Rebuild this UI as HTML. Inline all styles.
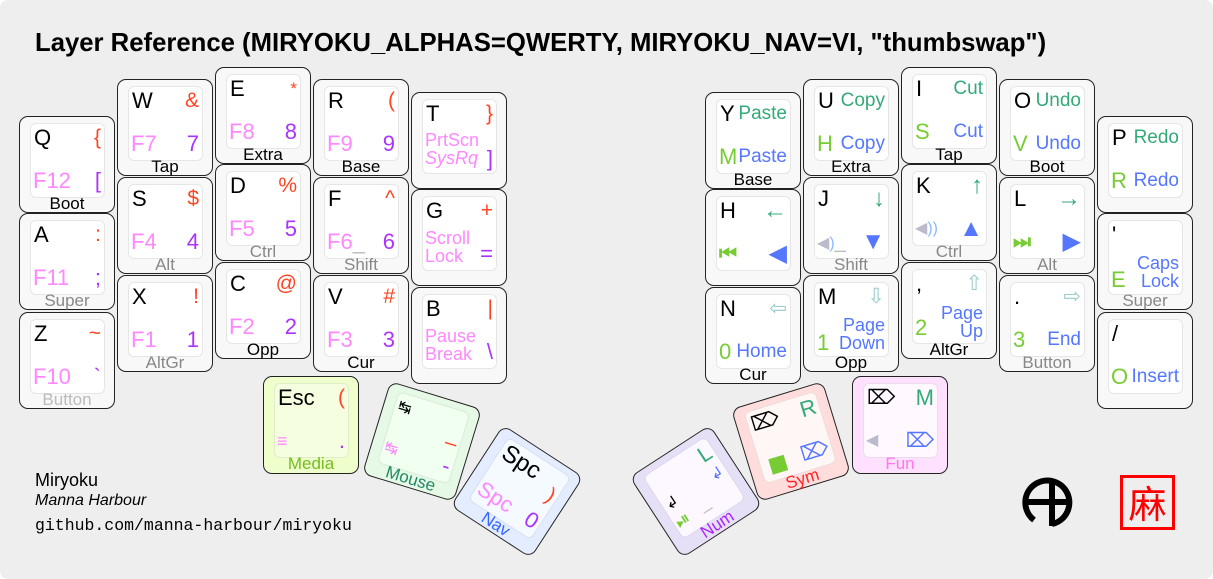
<!DOCTYPE html>
<html><head><meta charset="utf-8"><style>
*{box-sizing:border-box;margin:0;padding:0}
body{width:1213px;height:579px;background:#fff;font-family:"Liberation Sans",sans-serif;overflow:hidden;position:relative}
#bg{position:absolute;left:0;top:0;width:1213px;height:579px;background:#eeeeee;border-radius:8px}
.k{position:absolute;width:96px;height:97px;border:1px solid #222;border-radius:9px;background:#f8f8f8}
.i{position:absolute;left:10px;top:6px;width:75px;height:75px;background:#fff;border:1px solid #e6e6e6;border-radius:6px}
.k span{position:absolute;white-space:nowrap;line-height:22px}
.tl{left:14px;top:10px;font-size:22px;color:#000}
.tr{right:13px;top:10px;font-size:21px;color:#ff4422;text-align:right}
.bl{left:13px;top:53px;font-size:22px;color:#ff88ff}
.br{right:13px;top:53px;font-size:22px;color:#aa33ff;text-align:right}
.k span.lb{left:0;right:0;top:77px;font-size:17px;line-height:20px;text-align:center;color:#000}
.g{color:#888!important}.lg{color:#bbb!important}
.gr{color:#33aa77!important}.bu{color:#5577ff!important}.li{color:#77cc33!important}.te{color:#99cccc!important}
.two{font-size:18px!important;line-height:18px!important}
.ar{font-size:24px!important;font-weight:bold}
.t{position:absolute;white-space:nowrap}
</style></head><body>
<div id="bg"></div>
<div class="t" style="left:35px;top:29px;font-size:25.7px;font-weight:bold">Layer Reference (MIRYOKU_ALPHAS=QWERTY, MIRYOKU_NAV=VI, "thumbswap")</div>

<!-- left -->
<div class="k" style="left:19px;top:116px"><div class="i"></div><span class="tl">Q</span><span class="tr">{</span><span class="bl">F12</span><span class="br">[</span><span class="lb">Boot</span></div>
<div class="k" style="left:19px;top:213px"><div class="i"></div><span class="tl">A</span><span class="tr">:</span><span class="bl">F11</span><span class="br">;</span><span class="lb g">Super</span></div>
<div class="k" style="left:19px;top:312px"><div class="i"></div><span class="tl">Z</span><span class="tr">~</span><span class="bl">F10</span><span class="br">`</span><span class="lb lg">Button</span></div>
<div class="k" style="left:117px;top:79px"><div class="i"></div><span class="tl">W</span><span class="tr">&amp;</span><span class="bl">F7</span><span class="br">7</span><span class="lb">Tap</span></div>
<div class="k" style="left:117px;top:177px"><div class="i"></div><span class="tl">S</span><span class="tr">$</span><span class="bl">F4</span><span class="br">4</span><span class="lb g">Alt</span></div>
<div class="k" style="left:117px;top:275px"><div class="i"></div><span class="tl">X</span><span class="tr">!</span><span class="bl">F1</span><span class="br">1</span><span class="lb g">AltGr</span></div>
<div class="k" style="left:215px;top:67px"><div class="i"></div><span class="tl">E</span><span class="tr" style="font-size:17px">*</span><span class="bl">F8</span><span class="br">8</span><span class="lb">Extra</span></div>
<div class="k" style="left:215px;top:164px"><div class="i"></div><span class="tl">D</span><span class="tr">%</span><span class="bl">F5</span><span class="br">5</span><span class="lb g">Ctrl</span></div>
<div class="k" style="left:215px;top:262px"><div class="i"></div><span class="tl">C</span><span class="tr">@</span><span class="bl">F2</span><span class="br">2</span><span class="lb">Opp</span></div>
<div class="k" style="left:313px;top:79px"><div class="i"></div><span class="tl">R</span><span class="tr">(</span><span class="bl">F9</span><span class="br">9</span><span class="lb">Base</span></div>
<div class="k" style="left:313px;top:177px"><div class="i"></div><span class="tl">F</span><span class="tr">^</span><span class="bl">F6<span style="position:static;color:#bbb">_</span></span><span class="br">6</span><span class="lb g">Shift</span></div>
<div class="k" style="left:313px;top:275px"><div class="i"></div><span class="tl">V</span><span class="tr">#</span><span class="bl">F3</span><span class="br">3</span><span class="lb">Cur</span></div>
<div class="k" style="left:411px;top:92px"><div class="i"></div><span class="tl">T</span><span class="tr">}</span><span class="bl two" style="top:38px">PrtScn<br><i>SysRq</i></span><span class="br" style="top:55px">]</span></div>
<div class="k" style="left:411px;top:189px"><div class="i"></div><span class="tl">G</span><span class="tr">+</span><span class="bl two" style="top:39px">Scroll<br>Lock</span><span class="br">=</span></div>
<div class="k" style="left:411px;top:287px"><div class="i"></div><span class="tl">B</span><span class="tr">|</span><span class="bl two" style="top:39px">Pause<br>Break</span><span class="br" style="top:53px">\</span></div>

<!-- right -->
<div class="k" style="left:705px;top:92px"><div class="i"></div><span class="tl">Y</span><span class="tr gr" style="font-size:19px">Paste</span><span class="bl li">M</span><span class="br bu" style="font-size:19px">Paste</span><span class="lb">Base</span></div>
<div class="k" style="left:803px;top:79px"><div class="i"></div><span class="tl">U</span><span class="tr gr" style="font-size:19px">Copy</span><span class="bl li">H</span><span class="br bu" style="font-size:19px">Copy</span><span class="lb">Extra</span></div>
<div class="k" style="left:901px;top:67px"><div class="i"></div><span class="tl">I</span><span class="tr gr" style="font-size:19px">Cut</span><span class="bl li" style="top:53px">S</span><span class="br bu" style="font-size:19px">Cut</span><span class="lb">Tap</span></div>
<div class="k" style="left:999px;top:79px"><div class="i"></div><span class="tl">O</span><span class="tr gr" style="font-size:19px">Undo</span><span class="bl li">V</span><span class="br bu" style="font-size:19px">Undo</span><span class="lb">Boot</span></div>
<div class="k" style="left:1097px;top:116px"><div class="i"></div><span class="tl">P</span><span class="tr gr" style="font-size:19px">Redo</span><span class="bl li">R</span><span class="br bu" style="font-size:19px">Redo</span></div>
<div class="k" style="left:705px;top:189px"><div class="i"></div><span class="tl">H</span><span class="tr gr ar">&#x2190;</span><span class="bl li" style="font-size:20px;font-weight:bold">&#x23EE;</span><span class="br bu" style="font-size:24px">&#x25C0;</span></div>
<div class="k" style="left:803px;top:177px"><div class="i"></div><span class="tl">J</span><span class="tr gr ar">&#x2193;</span><span class="bl" style="color:#bbbbcc;font-size:16px">&#x25C0;<span style="position:static;color:#88bbff">)</span><span style="position:static;color:#bbb;font-size:20px">_</span></span><span class="br bu" style="font-size:24px">&#x25BC;</span><span class="lb g">Shift</span></div>
<div class="k" style="left:901px;top:164px"><div class="i"></div><span class="tl">K</span><span class="tr gr ar">&#x2191;</span><span class="bl" style="color:#bbbbcc;font-size:16px">&#x25C0;<span style="position:static;color:#88bbff">))</span></span><span class="br bu" style="font-size:24px">&#x25B2;</span><span class="lb g">Ctrl</span></div>
<div class="k" style="left:999px;top:177px"><div class="i"></div><span class="tl">L</span><span class="tr gr ar">&#x2192;</span><span class="bl li" style="font-size:20px;font-weight:bold">&#x23ED;</span><span class="br bu" style="font-size:24px">&#x25B6;</span><span class="lb g">Alt</span></div>
<div class="k" style="left:1097px;top:213px"><div class="i"></div><span class="tl">'</span><span class="bl li" style="top:55px">E</span><span class="br bu two" style="top:40px">Caps<br>Lock</span><span class="lb g">Super</span></div>
<div class="k" style="left:705px;top:287px"><div class="i"></div><span class="tl">N</span><span class="tr te">&#x21E6;</span><span class="bl li">0</span><span class="br bu" style="font-size:19px">Home</span><span class="lb">Cur</span></div>
<div class="k" style="left:803px;top:275px"><div class="i"></div><span class="tl">M</span><span class="tr te">&#x21E9;</span><span class="bl li" style="top:56px">1</span><span class="br bu two" style="top:40px">Page<br>Down</span><span class="lb">Opp</span></div>
<div class="k" style="left:901px;top:262px"><div class="i"></div><span class="tl">,</span><span class="tr te">&#x21E7;</span><span class="bl li" style="top:54px">2</span><span class="br bu two" style="top:41px">Page<br>Up</span><span class="lb">AltGr</span></div>
<div class="k" style="left:999px;top:275px"><div class="i"></div><span class="tl">.</span><span class="tr te">&#x21E8;</span><span class="bl li">3</span><span class="br bu" style="font-size:19px">End</span><span class="lb g">Button</span></div>
<div class="k" style="left:1097px;top:312px"><div class="i"></div><span class="tl">/</span><span class="bl li">O</span><span class="br bu" style="font-size:19px">Insert</span></div>

<!-- thumbs -->
<div class="k" style="left:263px;top:376px;height:98px;background:#eeffcc"><div class="i" style="background:#f5ffe0;border-color:#e0eccc"></div><span class="tl">Esc</span><span class="tr">(</span><span class="bl" style="font-size:18px">&#x2261;</span><span class="br">.</span><span class="lb" style="color:#77bb22">Media</span></div>
<div class="k" style="left:374px;top:393px;background:#e6f8e6;transform:rotate(17deg)"><div class="i" style="background:#f0fff0;border-color:#d8ecd8"></div><span class="tl" style="font-size:16px">&#x21B9;</span><span class="tr" style="top:30px">&#x2013;</span><span class="bl" style="font-size:16px">&#x21B9;</span><span class="br">-</span><span class="lb" style="color:#228866">Mouse</span></div>
<div class="k" style="left:469px;top:443px;background:#e4ecff;transform:rotate(33deg)"><div class="i" style="background:#f4faff;border-color:#d8e0f0"></div><span class="tl" style="font-size:24px">Spc</span><span class="tr" style="top:22px">)</span><span class="bl">Spc</span><span class="br">0</span><span class="lb" style="color:#3366ff">Nav</span></div>
<div class="k" style="left:648px;top:443px;background:#e6e0f6;transform:rotate(-33deg)"><div class="i" style="background:#fdf8ff;border-color:#ddd8ee"></div><span class="tl" style="font-size:16px;top:34px">&#x21B2;</span><span class="tr gr" style="font-size:22px">L</span><span class="bl li" style="font-size:18px">&#x23EF;</span><span class="br bu" style="font-size:16px;top:34px">&#x21B2;</span><span class="t" style="left:42px;top:50px;color:#bbb;font-size:18px">_</span><span class="lb" style="color:#aa22ff">Num</span></div>
<div class="k" style="left:743px;top:393px;background:#ffdddd;transform:rotate(-17deg)"><div class="i" style="background:#fff6f6;border-color:#eedada"></div><span class="tl" style="font-size:20px">&#x2326;</span><span class="tr gr" style="font-size:22px">R</span><span class="t" style="left:20px;top:58px;width:16px;height:16px;background:#77cc33"></span><span class="br bu" style="font-size:20px">&#x2326;</span><span class="lb" style="color:#ff2222">Sym</span></div>
<div class="k" style="left:852px;top:376px;height:98px;background:#ffe0ff"><div class="i" style="background:#fff8ff;border-color:#eedcee"></div><span class="tl" style="font-size:20px">&#x2326;</span><span class="tr gr" style="font-size:22px">M</span><span class="bl" style="color:#bbbbcc;font-size:16px">&#x25C0;</span><span class="br bu" style="font-size:20px">&#x2326;</span><span class="lb" style="color:#ff77ee">Fun</span></div>

<div class="t" style="left:35px;top:470px;font-size:18px">Miryoku</div>
<div class="t" style="left:35px;top:492px;font-size:16px;font-style:italic">Manna Harbour</div>
<div class="t" style="left:35px;top:516px;font-size:16.5px;font-family:'Liberation Mono',monospace">github.com/manna-harbour/miryoku</div>

<svg style="position:absolute;left:1020px;top:474px" width="58" height="56" viewBox="0 0 58 56">
<path d="M14 46 A22 22 0 1 1 32 50" fill="none" stroke="#000" stroke-width="6"/>
<line x1="32" y1="6" x2="32" y2="52" stroke="#000" stroke-width="6"/>
<line x1="8" y1="28" x2="52" y2="28" stroke="#000" stroke-width="6"/>
</svg>
<div class="t" style="left:1120px;top:475px;width:55px;height:55px;border:3px solid #f00;color:#f00;font-size:38px;line-height:48px;text-align:center;font-family:'Noto Sans CJK SC',sans-serif">&#x9EBB;</div>
</body></html>
